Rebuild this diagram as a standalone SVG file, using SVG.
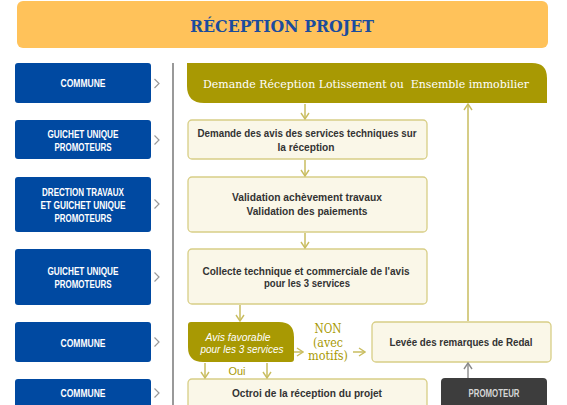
<svg xmlns="http://www.w3.org/2000/svg" width="567" height="405" viewBox="0 0 567 405">
<defs>
<style>
.blue{fill:#0049A1}
.bt{font-family:"Liberation Sans",Arial,sans-serif;font-size:10px;font-weight:bold;fill:#fff;text-anchor:middle}
.cream{fill:#FAF7E8;stroke:#D8CE86;stroke-width:1.3}
.ct{font-family:"Liberation Sans",Arial,sans-serif;font-size:10.5px;font-weight:bold;fill:#333;text-anchor:middle}
.it{font-family:"Liberation Sans",Arial,sans-serif;font-size:10px;font-style:italic;fill:#fff;text-anchor:middle}
.olive{fill:#A89903}
.conn{stroke:#C9BD5F;stroke-width:1.5;fill:none}
.gar{stroke:#9a9a9a;stroke-width:1.2;fill:none}
.st{font-family:"DejaVu Serif","Liberation Serif",serif;text-anchor:middle}
</style>
<marker id="ah" viewBox="0 0 8 10" refX="7" refY="5" markerWidth="8" markerHeight="10" markerUnits="userSpaceOnUse" orient="auto">
<path d="M1,1 L7,5 L1,9" fill="none" stroke="#C9BD5F" stroke-width="1.4"/>
</marker>
<marker id="ahg" viewBox="0 0 8 10" refX="7" refY="5" markerWidth="8" markerHeight="10" markerUnits="userSpaceOnUse" orient="auto">
<path d="M1,1 L7,5 L1,9" fill="none" stroke="#8a8a8a" stroke-width="1.4"/>
</marker>
</defs>
<rect width="567" height="405" fill="#fff"/>

<g id="title">
<rect x="17" y="1" width="531" height="47" rx="6" fill="#FFC25A"/>
<text x="282" y="32" class="st" font-size="17" font-weight="bold" fill="#1B4C9E" textLength="184" lengthAdjust="spacingAndGlyphs">RÉCEPTION PROJET</text>
</g>

<line x1="173" y1="63" x2="173" y2="405" stroke="#999" stroke-width="2"/>

<g id="actors">
<g id="a1"><rect class="blue" x="15" y="63" width="136" height="40" rx="3"/>
<text class="bt" x="83" y="87" textLength="45" lengthAdjust="spacingAndGlyphs">COMMUNE</text></g>
<g id="a2"><rect class="blue" x="15" y="120" width="136" height="39" rx="3"/>
<text class="bt" x="83" y="137.5" textLength="71" lengthAdjust="spacingAndGlyphs">GUICHET UNIQUE</text>
<text class="bt" x="83" y="150.5" textLength="57" lengthAdjust="spacingAndGlyphs">PROMOTEURS</text></g>
<g id="a3"><rect class="blue" x="15" y="177" width="136" height="55" rx="3"/>
<text class="bt" x="83" y="195.5" textLength="82" lengthAdjust="spacingAndGlyphs">DRECTION TRAVAUX</text>
<text class="bt" x="83" y="208.5" textLength="85" lengthAdjust="spacingAndGlyphs">ET GUICHET UNIQUE</text>
<text class="bt" x="83" y="221.5" textLength="57" lengthAdjust="spacingAndGlyphs">PROMOTEURS</text></g>
<g id="a4"><rect class="blue" x="15" y="249" width="136" height="56" rx="3"/>
<text class="bt" x="83" y="274.5" textLength="71" lengthAdjust="spacingAndGlyphs">GUICHET UNIQUE</text>
<text class="bt" x="83" y="287.5" textLength="57" lengthAdjust="spacingAndGlyphs">PROMOTEURS</text></g>
<g id="a5"><rect class="blue" x="15" y="322" width="136" height="40" rx="3"/>
<text class="bt" x="83" y="346.5" textLength="45" lengthAdjust="spacingAndGlyphs">COMMUNE</text></g>
<g id="a6"><rect class="blue" x="15" y="379" width="136" height="40" rx="3"/>
<text class="bt" x="83" y="396.5" textLength="45" lengthAdjust="spacingAndGlyphs">COMMUNE</text></g>
</g>

<g id="side-arrows">
<path class="gar" d="M154.5,79 L159,83.5 L154.5,88"/>
<path class="gar" d="M154.5,135.5 L159,140 L154.5,144.5"/>
<path class="gar" d="M154.5,199.5 L159,204 L154.5,208.5"/>
<path class="gar" d="M154.5,272.5 L159,277 L154.5,281.5"/>
<path class="gar" d="M154.5,337.5 L159,342 L154.5,346.5"/>
<path class="gar" d="M154.5,388.5 L159,393 L154.5,397.5"/>
</g>

<g id="n-demande">
<path class="olive" d="M187,63 H532 Q547,63 547,78 V103 H204 Q187,103 187,86 Z"/>
<text class="st" x="366" y="88" font-size="11.5" fill="#fff" xml:space="preserve" textLength="326" lengthAdjust="spacingAndGlyphs">Demande Réception Lotissement ou  Ensemble immobilier</text>
</g>

<g id="n-avis">
<rect class="cream" x="188" y="120" width="239" height="39" rx="4"/>
<text class="ct" x="307" y="137" textLength="219" lengthAdjust="spacingAndGlyphs">Demande des avis des services techniques sur</text>
<text class="ct" x="306" y="151" textLength="57" lengthAdjust="spacingAndGlyphs">la réception</text>
</g>

<g id="n-validation">
<rect class="cream" x="188" y="177" width="239" height="55" rx="4"/>
<text class="ct" x="307" y="201" textLength="150" lengthAdjust="spacingAndGlyphs">Validation achèvement travaux</text>
<text class="ct" x="307" y="215" textLength="121" lengthAdjust="spacingAndGlyphs">Validation des paiements</text>
</g>

<g id="n-collecte">
<rect class="cream" x="188" y="249" width="239" height="55" rx="4"/>
<text class="ct" x="306" y="274.5" textLength="207" lengthAdjust="spacingAndGlyphs">Collecte technique et commerciale de l'avis</text>
<text class="ct" x="307" y="287" textLength="86" lengthAdjust="spacingAndGlyphs">pour les 3 services</text>
</g>

<g id="n-decision">
<path class="olive" d="M188,325 Q188,322 191,322 H279 Q294,322 294,337 V359 Q294,362 291,362 H203 Q188,362 188,347 Z"/>
<text class="it" x="238" y="340.5" textLength="65" lengthAdjust="spacingAndGlyphs">Avis favorable</text>
<text class="it" x="242" y="352.5" textLength="83" lengthAdjust="spacingAndGlyphs">pour les 3 services</text>
</g>

<g id="n-levee">
<rect class="cream" x="372" y="322" width="179" height="40" rx="4"/>
<text class="ct" x="461" y="346" textLength="143" lengthAdjust="spacingAndGlyphs">Levée des remarques de Redal</text>
</g>

<g id="n-octroi">
<rect class="cream" x="188" y="379" width="239" height="40" rx="4"/>
<text class="ct" x="307" y="397" textLength="150" lengthAdjust="spacingAndGlyphs">Octroi de la réception du projet</text>
</g>

<g id="n-promoteur">
<rect x="441" y="378" width="106" height="40" rx="4" fill="#3D3D3D"/>
<text class="bt" x="494" y="397" style="fill:#d6d6d6" textLength="51" lengthAdjust="spacingAndGlyphs">PROMOTEUR</text>
</g>

<g id="connectors">
<line class="conn" x1="305" y1="104" x2="305" y2="119" marker-end="url(#ah)"/>
<line class="conn" x1="305" y1="160" x2="305" y2="176" marker-end="url(#ah)"/>
<line class="conn" x1="305" y1="233" x2="305" y2="248" marker-end="url(#ah)"/>
<line class="conn" x1="240" y1="305" x2="240" y2="321" marker-end="url(#ah)"/>
<line class="conn" x1="205" y1="363" x2="205" y2="378" marker-end="url(#ah)"/>
<line class="conn" x1="267" y1="363" x2="267" y2="378" marker-end="url(#ah)"/>
<line class="conn" x1="294" y1="352" x2="303" y2="352" marker-end="url(#ah)"/>
<line class="conn" x1="353" y1="352" x2="365" y2="352" marker-end="url(#ah)"/>
<line class="conn" x1="468" y1="321" x2="468" y2="104" marker-end="url(#ah)"/>
<line x1="468" y1="378" x2="468" y2="363" stroke="#8a8a8a" stroke-width="1.4" marker-end="url(#ahg)"/>
<text x="237" y="375" font-family="Liberation Sans,Arial,sans-serif" font-size="11" fill="#A89903" text-anchor="middle" textLength="17" lengthAdjust="spacingAndGlyphs">Oui</text>
<text class="st" x="328" y="333" font-size="12" fill="#A89903" textLength="27" lengthAdjust="spacingAndGlyphs">NON</text>
<text class="st" x="328" y="346.5" font-size="12" fill="#A89903" textLength="30" lengthAdjust="spacingAndGlyphs">(avec</text>
<text class="st" x="328" y="360" font-size="12" fill="#A89903" textLength="40" lengthAdjust="spacingAndGlyphs">motifs)</text>
</g>
</svg>
